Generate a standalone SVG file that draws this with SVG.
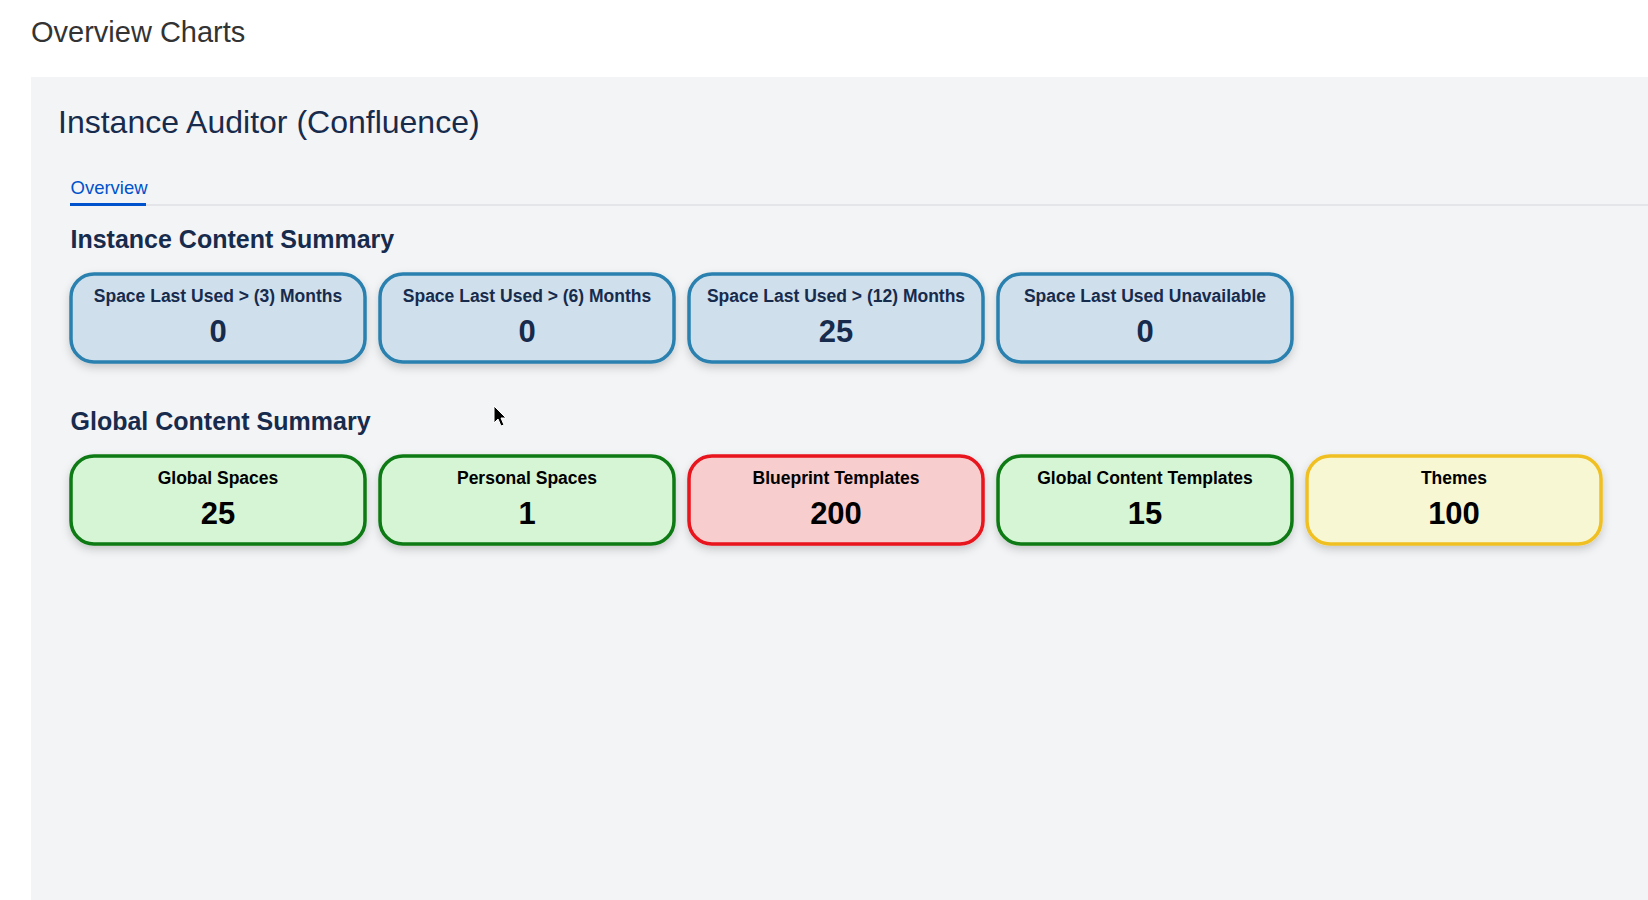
<svg xmlns="http://www.w3.org/2000/svg" width="1648" height="900" viewBox="0 0 1648 900">
<defs>
<filter id="sh" x="-10%" y="-20%" width="120%" height="150%"><feDropShadow dx="0" dy="4" stdDeviation="4" flood-color="#000" flood-opacity="0.18"/></filter>
</defs>
<style>
text{font-family:"Liberation Sans",Arial,sans-serif}
.lbl{font-size:17.5px;font-weight:bold;text-anchor:middle}
.val{font-size:31px;font-weight:bold;text-anchor:middle}
.h2{font-size:25px;font-weight:bold;fill:#172b4d}
.box{stroke-width:3.5;filter:url(#sh)}
.blue{fill:#cfe0ec;stroke:#2a80ae}
.green{fill:#d6f5d4;stroke:#0b7a12}
.red{fill:#f8cdcd;stroke:#e8121c}
.yellow{fill:#f7f7d4;stroke:#f0c020}
.dk{fill:#172b4d}
.bk{fill:#000}
</style>
<rect width="1648" height="900" fill="#fff"/>
<text x="31" y="42" font-size="29" fill="#333">Overview Charts</text>
<rect x="31" y="77" width="1617" height="823" fill="#f3f4f6"/>
<text x="58" y="133" font-size="32" fill="#172b4d">Instance Auditor (Confluence)</text>
<line x1="70" y1="205" x2="1648" y2="205" stroke="#e3e5e8" stroke-width="2"/>
<text x="70.5" y="194" font-size="18.5" fill="#0052cc">Overview</text>
<rect x="70" y="203" width="76" height="3" fill="#0052cc"/>
<text class="h2" x="70.5" y="248">Instance Content Summary</text>
<text class="h2" x="70.5" y="430">Global Content Summary</text>
<g id="n1"><rect class="box blue" x="71" y="274" width="294" height="88" rx="23"/><text class="lbl dk" x="218" y="302">Space Last Used &gt; (3) Months</text><text class="val dk" x="218" y="342">0</text></g>
<g id="n2"><rect class="box blue" x="380" y="274" width="294" height="88" rx="23"/><text class="lbl dk" x="527" y="302">Space Last Used &gt; (6) Months</text><text class="val dk" x="527" y="342">0</text></g>
<g id="n3"><rect class="box blue" x="689" y="274" width="294" height="88" rx="23"/><text class="lbl dk" x="836" y="302">Space Last Used &gt; (12) Months</text><text class="val dk" x="836" y="342">25</text></g>
<g id="n4"><rect class="box blue" x="998" y="274" width="294" height="88" rx="23"/><text class="lbl dk" x="1145" y="302">Space Last Used Unavailable</text><text class="val dk" x="1145" y="342">0</text></g>
<g id="n5"><rect class="box green" x="71" y="456" width="294" height="88" rx="23"/><text class="lbl bk" x="218" y="484">Global Spaces</text><text class="val bk" x="218" y="524">25</text></g>
<g id="n6"><rect class="box green" x="380" y="456" width="294" height="88" rx="23"/><text class="lbl bk" x="527" y="484">Personal Spaces</text><text class="val bk" x="527" y="524">1</text></g>
<g id="n7"><rect class="box red" x="689" y="456" width="294" height="88" rx="23"/><text class="lbl bk" x="836" y="484">Blueprint Templates</text><text class="val bk" x="836" y="524">200</text></g>
<g id="n8"><rect class="box green" x="998" y="456" width="294" height="88" rx="23"/><text class="lbl bk" x="1145" y="484">Global Content Templates</text><text class="val bk" x="1145" y="524">15</text></g>
<g id="n9"><rect class="box yellow" x="1307" y="456" width="294" height="88" rx="23"/><text class="lbl bk" x="1454" y="484">Themes</text><text class="val bk" x="1454" y="524">100</text></g>
<g id="connectors"></g>
<path d="M494 406 L494 423 L498 419 L501 426 L504 425 L501 418 L506 418 Z" fill="#000" stroke="#fff" stroke-width="1"/>
</svg>
